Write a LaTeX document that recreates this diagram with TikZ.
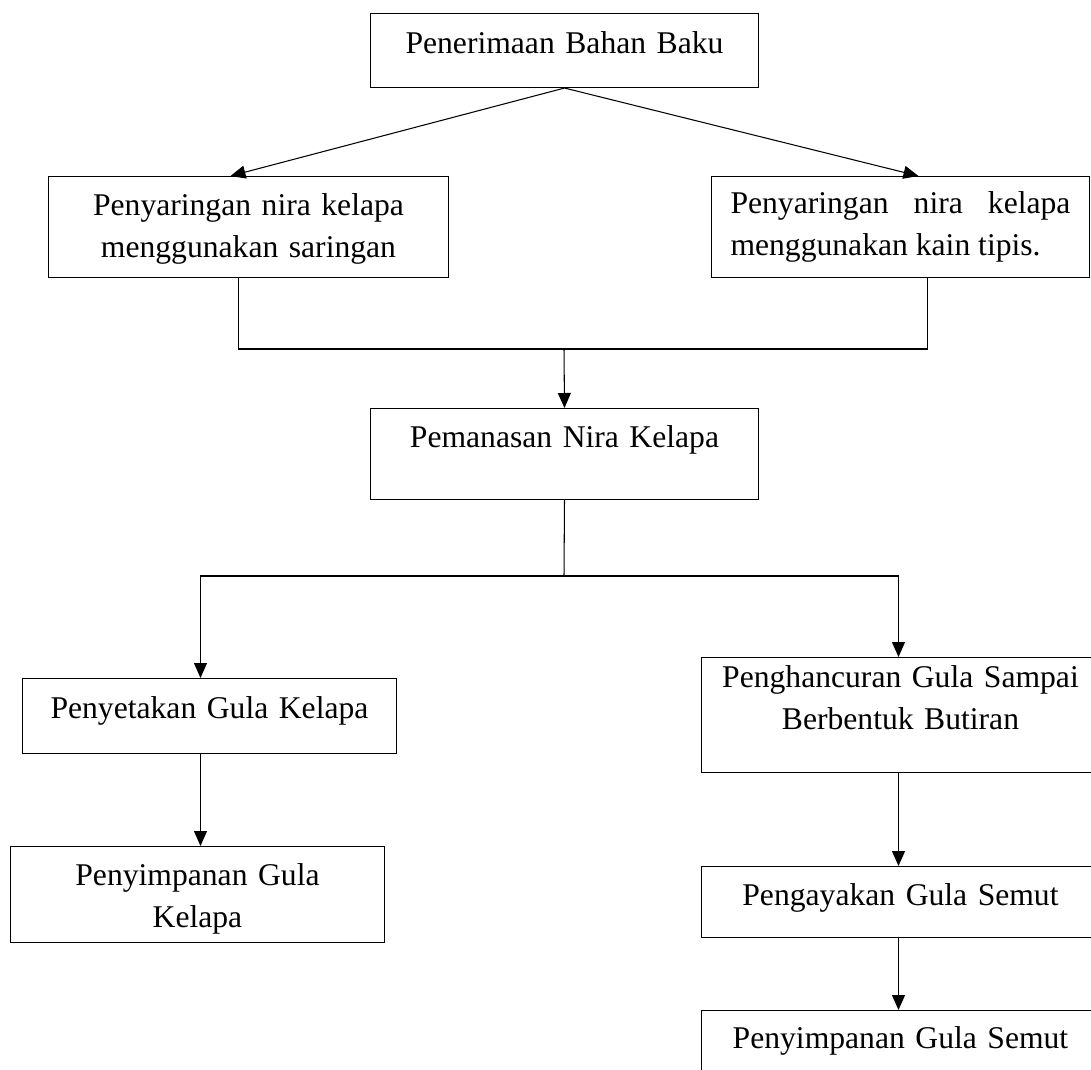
\documentclass[tikz,border=0pt]{standalone}
\usepackage{fontspec}
\setmainfont{Liberation Serif}
\usetikzlibrary{arrows.meta, calc}
\tikzset{%
    kot/.style={draw, line width=0.6pt, rectangle, anchor=north west, inner xsep=0pt, inner ysep=0pt, align=center, font=\fontsize{18pt}{23.8pt}\selectfont},
    gar/.style={line width=0.6pt},
    gara/.style={line width=0.6pt, -{Triangle[width=0.26cm, length=0.3cm]}},
}
\begin{document}
\begin{tikzpicture}[x=0.02cm, y=-0.02cm]
    \useasboundingbox (0,0) rectangle (1091,1070);
    \clip (0,0) rectangle (1091,1070);
    \node [kot, text width=7.76cm, text height=0.8cm, text depth=0.68cm] (bahan) at (370,13) {Penerimaan Bahan Baku};
    \node [kot, text width=8cm, text height=0.78cm, text depth=1.24cm] (sar) at (48,176) {Penyaringan nira kelapa\\menggunakan saringan};
    \node [kot, align=justify, inner xsep=0.38cm, text width=6.8cm, text height=0.74cm, text depth=1.28cm] (kain) at (711,176) {Penyaringan nira kelapa\linebreak menggunakan kain tipis.};
    \node [kot, text width=7.76cm, text height=0.78cm, text depth=1.04cm] (panas) at (370,408) {Pemanasan Nira Kelapa};
    \node [kot, text width=7.48cm, text height=0.8cm, text depth=0.7cm] (cetak) at (22,678) {Penyetakan Gula Kelapa};
    \node [kot, text width=7.48cm, text height=0.78cm, text depth=1.14cm] (simpan1) at (10,846) {Penyimpanan Gula\\Kelapa};
    \node [kot, text width=7.96cm, text height=0.6cm, text depth=1.7cm] (hancur) at (701,657) {Penghancuran Gula Sampai\\Berbentuk Butiran};
    \node [kot, text width=7.96cm, text height=0.78cm, text depth=0.64cm] (ayak) at (701,866) {Pengayakan Gula Semut};
    \node [kot, text width=7.96cm, text height=0.76cm, text depth=0.84cm] (simpan2) at (701,1010) {Penyimpanan Gula Semut};

    % penyaringan
    \draw [gara] (bahan.south) -- ($(sar.north)+(-18,0)$);
    \draw [gara] (bahan.south) -- ($(kain.north)+(18,0)$);
    \coordinate (gab) at (564,349);
    \draw [gar] ($(sar.south)+(-10,0)$) |- (gab) -| ($(kain.south)+(27,0)$);
    \draw [gara] (gab) -- (panas.north);

    % cabang gula kelapa / gula semut
    \coordinate (cab) at (564,576);
    \draw [gar] (panas.south) -- (cab);
    \draw [gara] (cab) -| ($(cetak.north)+(-9,0)$);
    \draw [gara] (cab) -| ($(hancur.north)+(-2,0)$);
    \draw [gara] ($(cetak.south)+(-9,0)$) -- ($(simpan1.north)+(3,0)$);
    \draw [gara] ($(hancur.south)+(-2,0)$) -- ($(ayak.north)+(-2,0)$);
    \draw [gara] ($(ayak.south)+(-2,0)$) -- ($(simpan2.north)+(-2,0)$);
\end{tikzpicture}
\end{document}
